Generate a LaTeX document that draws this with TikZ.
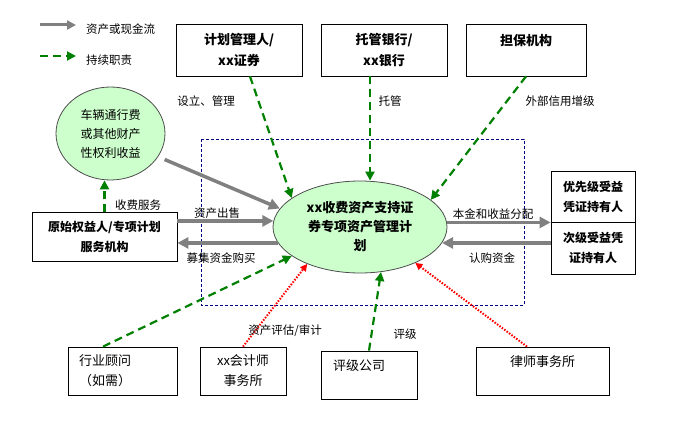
\documentclass[tikz,border=0pt]{standalone}
\usepackage{fontspec}
\setmainfont{Noto Sans CJK SC}
\definecolor{flowgray}{RGB}{128,128,128}
\definecolor{dutygreen}{RGB}{0,128,0}
\definecolor{pastgreen}{RGB}{204,255,204}
\definecolor{framenavy}{RGB}{0,0,128}
\usetikzlibrary{arrows.meta,shapes.geometric,calc}

\begin{document}
\begin{tikzpicture}[x=1pt, y=-1pt,
  party/.style={draw=black, line width=0.8pt, fill=white, align=center, inner sep=0pt},
  boldtxt/.style={font=\bfseries\fontsize{13}{21}\selectfont},
  plaintxt/.style={font=\fontsize{13}{20}\selectfont},
  blob/.style={ellipse, draw=black!70, line width=0.8pt, fill=pastgreen, align=center, inner sep=0pt},
  lbl/.style={font=\fontsize{11.5}{13}\selectfont, inner sep=0pt},
  cash/.style={draw=flowgray, line width=3.5pt, -{Triangle[length=11pt,width=11pt]}},
  duty/.style={draw=dutygreen, line width=2.2pt, dash pattern=on 8pt off 5pt, -{Triangle[length=9pt,width=9pt]}},
  check/.style={draw=red, line width=2pt, dash pattern=on 1.5pt off 1.5pt, -{Triangle[length=7pt,width=7pt]}}]
  \useasboundingbox (0,0) rectangle (674,422);

  % Legend
  \coordinate (lg1a) at (40,25);  \coordinate (lg1b) at (76,25);
  \coordinate (lg2a) at (40,56);  \coordinate (lg2b) at (76,56);
  \draw[cash, line width=3pt, -{Triangle[length=9pt,width=9pt]}] (lg1a) -- (lg1b);
  \draw[duty, line width=2pt] (lg2a) -- (lg2b);
  \node[lbl, anchor=west] (lgt1) at (86,29) {资产或现金流};
  \node[lbl, anchor=west] (lgt2) at (86,60) {持续职责};

  % Plan frame
  \draw[framenavy, line width=0.8pt, dash pattern=on 3pt off 2pt] (201,139) rectangle (524,305);

  % Top parties
  \node[party, boldtxt, minimum width=126pt, minimum height=52pt] (mgr) at (239,50) {计划管理人/\\xx证券};
  \node[party, boldtxt, minimum width=126pt, minimum height=52pt] (cust) at (384,50) {托管银行/\\xx银行};
  \node[party, boldtxt, minimum width=120pt, minimum height=52pt] (guar) at (526,50) {担保机构\\~};

  % Left side
  \node[blob, font=\fontsize{12}{19}\selectfont, minimum width=109pt, minimum height=93pt] (veh) at (110.5,133.5) {车辆通行费\\或其他财产\\性权利收益};
  \node[party, font=\bfseries\fontsize{12}{20}\selectfont, minimum width=145pt, minimum height=49pt] (orig) at (104.5,236.5) {原始权益人/专项计划\\服务机构};

  % Plan
  \node[blob, font=\bfseries\fontsize{13}{19}\selectfont, minimum width=174pt, minimum height=92pt] (plan) at (360,227) {xx收费资产支持证\\券专项资产管理计\\划};

  % Investors
  \node[party, font=\bfseries\fontsize{12}{20}\selectfont, minimum width=84pt, minimum height=51pt] (senior) at (593,196.5) {优先级受益\\凭证持有人};
  \node[party, font=\bfseries\fontsize{12}{20}\selectfont, minimum width=84pt, minimum height=52pt] (junior) at (593,248) {次级受益凭\\证持有人};

  % Bottom parties
  \node[party, plaintxt, align=left, text width=87pt, inner xsep=11pt, minimum height=48pt] (adv) at (122.5,371) {行业顾问\\（如需）};
  \node[party, plaintxt, minimum width=86pt, minimum height=48pt] (acct) at (243,371) {xx会计师\\事务所};
  \node[party, plaintxt, align=left, text width=72pt, inner xsep=12pt, minimum height=48pt] (rating) at (369,375) {评级公司\\~};
  \node[party, plaintxt, minimum width=133pt, minimum height=48pt] (lawyer) at (542.5,371) {律师事务所\\~};

  % Cash flows
  \draw[cash, shorten <=7pt] (veh.-26) -- (plan.167);
  \draw[cash] (plan.176.7 -| orig.east) -- (plan.176.7);
  \draw[cash] (plan.191) -- (plan.191 -| orig.east);
  \draw[cash] (plan.3.3) -- (plan.3.3 -| senior.west);
  \draw[cash] (plan.-11 -| junior.west) -- (plan.-11);

  % Duties
  \draw[duty] ([xshift=11pt]mgr.south) -- (plan.157);
  \draw[duty] ([xshift=-14pt]cust.south) -- ([xshift=-14pt]cust.south |- plan.north);
  \draw[duty] (guar.south) -- (plan.21);
  \draw[duty] (orig.north) -- (orig.north |- veh.south);
  \draw[duty] ([xshift=-19.5pt]adv.north) -- (plan.203);
  \draw[duty] (rating.north) -- (plan.-65);
  \draw[check] (acct.north) -- (plan.215);
  \draw[check] ([xshift=-15.5pt]lawyer.north) -- (plan.-33);

  % Labels
  \node[lbl] (l1) at (206,101) {设立、管理};
  \node[lbl] (l2) at (390,101) {托管};
  \node[lbl] (l3) at (560,101) {外部信用增级};
  \node[lbl] (l4) at (138,205) {收费服务};
  \node[lbl] (l5) at (217,213) {资产出售};
  \node[lbl] (l6) at (221,258) {募集资金购买};
  \node[lbl] (l7) at (493,214) {本金和收益分配};
  \node[lbl] (l8) at (492,258) {认购资金};
  \node[lbl] (l9) at (285,331) {资产评估/审计};
  \node[lbl] (l10) at (405,334) {评级};
\end{tikzpicture}
\end{document}
